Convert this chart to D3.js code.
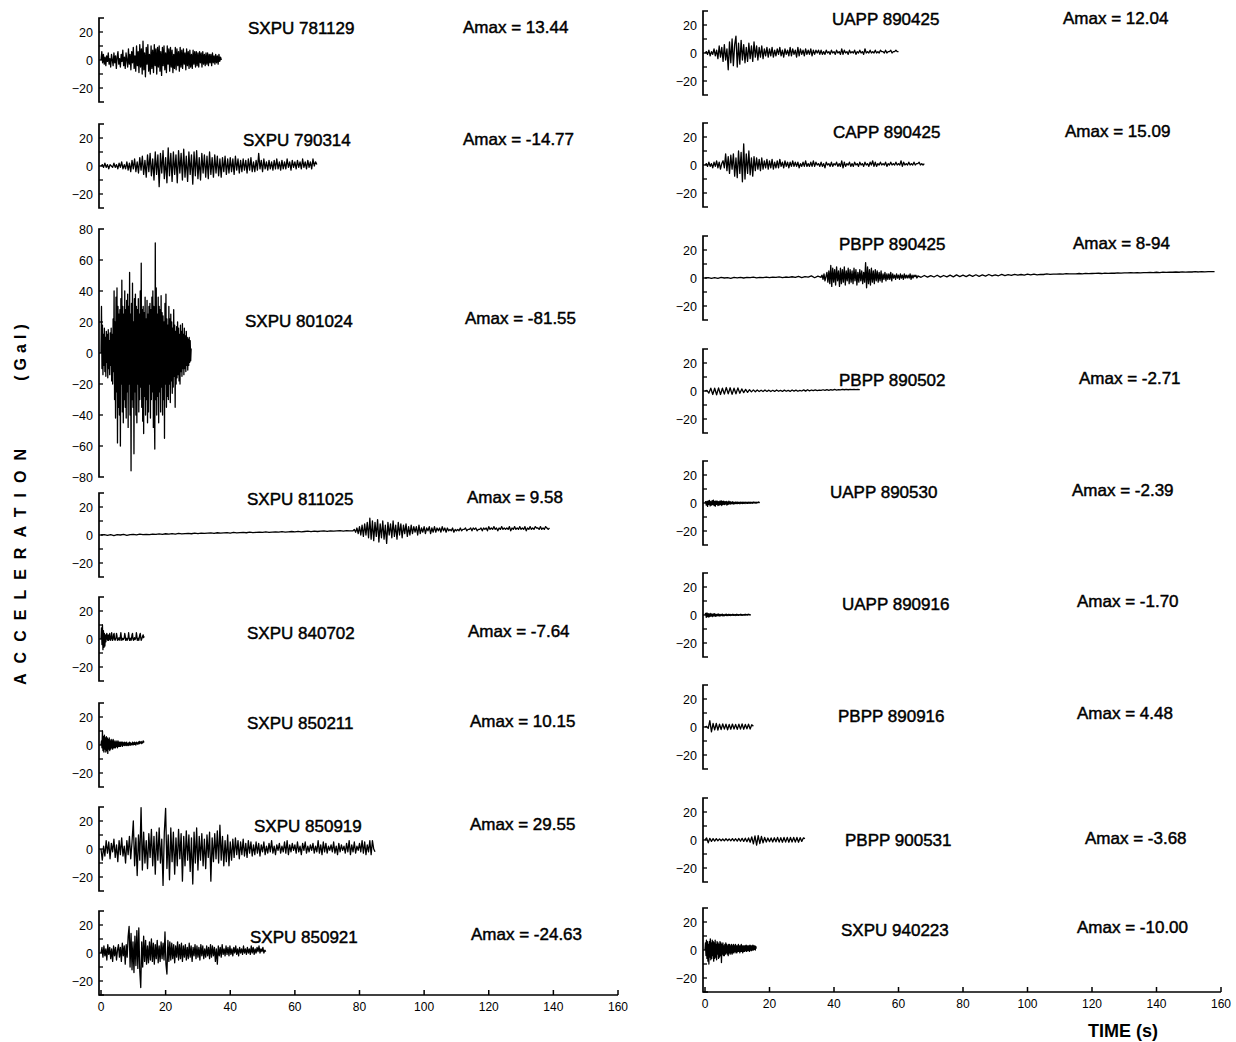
<!DOCTYPE html>
<html>
<head>
<meta charset="utf-8">
<script src="https://cdn.jsdelivr.net/npm/d3@7"></script>
<style>
body { margin: 0; background: #fff; }
svg { display: block; font-family: "Liberation Sans", Arial, sans-serif; }
</style>
</head>
<body>
<div id="chart"></div>
<script>
// ---- Acceleration samples (Gal) ----
// each trace: one or more segments [t0, dt, values]
const sxpu781129 = [0,6,-2,4,-3,2,-4,3, -1,5,-3,1,-5,4,0,-4, 5,-2,3,-6,2,6,-3,1, -5,4,-1,7,-4,2,-6,5,
  0,-5,8,-3,4,-7,6,-2, 9,-6,3,-8,10,-4,6,-9, 11,-5,8,-10,13.4,-7,5,-12, 9,-3,11,-8,4,-10,10,-6,
  7,-9,11,-4,8,-10,9,-5, 10,-8,6,-11,9,-4,10,-7, 5,-9,10,-3,8,-8,9,-5, 7,-9,4,-6,9,-7,8,-4,
  6,-8,9,-5,7,-6,8,-3, 5,-7,8,-4,6,-6,7,-5, 4,-6,7,-3,6,-5,6,-4, 5,-5,6,-2,5,-5,6,-3,
  4,-4,5,-3,5,-4,4,-2, 4,-4,5,-2,3,-3,4,-2, 3,-3,4,-1,2,0];
const sxpu790314 = [0,1,-1,2,-1,1,-2,1,0,-1, 2,-1,1,-2,2,-1,3,-2,1,-2, 3,-3,2,-4,4,-2,5,-4,3,-5,
  6,-3,7,-6,4,-8,8,-4,9,-7, 5,-10,10,-6,8,-14.77,9,-5,11,-9, 6,-12,13,-7,9,-11,10,-6,8,-12,
  11,-5,9,-10,12,-8,7,-11,10,-6, 8,-13,10,-7,11,-9,6,-10,9,-5, 8,-8,7,-9,10,-6,6,-8,8,-5,
  7,-7,5,-8,6,-4,7,-6,5,-5, 6,-4,5,-6,7,-3,5,-5,4,-4, 5,-3,4,-5,5,-3,6,-4,3,-4,
  4,-3,9,-2,4,-4,5,-2,3,-3, 4,-2,3,-3,4,-2,5,-2,3,-3, 4,-2,3,-2,5,-1,3,-3,4,-1,
  3,-2,4,-1,3,-2,5,-1,3,-2, 4,-1,3,-2,5,0,3,1];
const sxpu801024 = [0,30,-10,18,-14,12,-8,16,-12,10, -15,14,-6,12,-16,15,-10,8,-14,13,
  -8,16,-18,12,-20,22,-12,40,-30,20, -42,36,-25,42,-58,30,-35,25,-40,28,
  -60,35,-20,47,-38,30,-45,25,-30,40, -35,28,-42,34,-25,38,-48,30,-20,52,
  -40,25,-76,32,-30,45,-35,20,-65,35, -25,38,-40,30,-45,28,-20,35,-38,25,
  -30,40,-22,58,-35,28,-44,30,-52,26, -28,36,-40,22,-30,34,-45,25,-38,30,
  -20,32,-42,28,-30,36,-25,40,-48,30, -35,-62,71,-30,42,-40,25,-28,36,-45,
  30,-25,28,-38,37,-22,26,-40,24,-30, 20,-55,32,-20,38,-35,22,-28,18,-30,
  30,-20,22,-32,25,-18,20,-26,16,-22, 28,-15,18,-35,14,-20,17,-16,20,-14,
  16,-18,12,-20,18,-12,14,-15,19,-10, 12,-14,16,-10,11,-12,14,-8,10,-11,
  9,-8,10,-6,8,-5,3];
const sxpu811025a = [0,0.3,-0.3,0.2,-0.4,0.3,0,0.4,-0.2,0.3, 0.5,0.1,0.6,0.2,0.5,0.3,0.7,0.4,0.8,0.5,
  0.9,0.6,1.0,0.7,1.1,0.8,1.0,1.2,0.9,1.3, 1.0,1.4,1.1,1.3,1.5,1.2,1.6,1.3,1.5,1.7,
  1.4,1.8,1.5,1.7,1.9,1.6,2.0,1.7,1.9,2.1, 1.8,2.2,1.9,2.1,2.3,2.0,2.4,2.1,2.3,2.5,
  2.2,2.6,2.3,2.5,2.7,2.4,2.8,2.5,2.7,2.9, 2.6,3.0,2.7,2.9,3.1,2.8,3.2,2.9,3.0];
const sxpu811025b = [3,4,2,5,1,6,0,7,-1,8, 0,9,-2,12,-3,10,-4,9,-1,11, -5,8,-2,10,-3,7,-6,9,0,8,
  -2,10,-1,7,-3,9,0,8,-2,7, 1,8,-1,6,0,7,1,6,2,6, 0,7,1,5,2,6,1,5,3,6,
  1,5,2,6,2,5,3,5,2,6, 3,5,2,5,3,4,3,5,2,4, 3,4,3,5,3,4,4,5,3,4,
  4,5,3,5,4,5,3,4,4,5, 3,5,4,5,3,6,4,5,4,6, 4,5,3,5,4,6,4,5,4,5,
  4,6,3,5,4,6,4,5,4,6, 4,5,4,6,3,5,4,6,4,5, 4,6,5,5,4,6,4,5,4,6, 5,4,5];
const sxpu840702 = [0,8,-4,10,-7.64,6,-6,4,-5,3, -2,2,4,0,-1,3,-1,0,4,0, -1,1,4.5,1,-1,0,3,4,0,-1,
  0,1,4,2,-1,0,-0.5,1,0,-1, 2,4.5,1,-1,0,0.5,-0.5,0,1,4, 2,-1,0,0.5,-1,0,1,4.5,1,-1,
  0,0.5,-1,0.5,3,4,0,-1,0,1, -0.5,0,1,4.5,2,-1,0,0.5,-1,1, 3,4,1,-1,0,1,2,3,1,2];
const sxpu850211 = [0,3,-2,10.15,-4,6,-5,7,-3,5, -5,6,-4,5,-6,4,-3,5,-4,3, -3,4,-2,3,-3,4,-2,3,-2,2,
  -2,3,-1,2,-2,3,-1,2,-1,2, -1,2,0,2,-1,2,0,1.5,-0.5,2, 0,1.5,-0.5,2,0,1,-0.5,1.5,0,2,
  0,1.5,0,1,0.5,2,0,1.5,0.5,2, 0.5,1.5,0,2,1,1.5,0.5,2,1,2.5, 1,2,1.5,2.5,1,2,1.5,3,2,2.5];
const sxpu850919 = [0,-8,2,-5,6,-3,5,-7,4,-2, 7,-6,3,-9,6,-4,8,-5,2,-10, 6,-4,9,-7,5,20,-12,8,-19,10,
  -8,29.55,-15,12,-10,6,-14,11,-6,14, -12,9,-18,12,-8,15,-10,7,-26,12, 29,-14,10,-22,15,-9,12,-18,8,-12,
  14,-7,11,-23,9,-12,13,-8,10,-16, 8,-25,12,-10,15,-15,9,-8,11,-12, 7,-14,10,-6,12,-23,8,-9,11,-7,
  13,-10,17,-8,9,-12,6,-9,10,-12, 5,-8,7,-6,8,-4,6,-7,5,-4, 7,-5,4,-6,6,-3,5,-5,3,-4,
  5,-3,4,-5,3,-2,5,-4,2,-3, 4,-2,6,-3,2,-4,3,-1,4,-3, 2,-2,5,-3,6,-4,3,-2,4,-1,
  3,-3,5,-2,2,-4,4,-1,5,-3, 2,-2,3,-1,4,-3,2,-2,6,-3, 3,-4,5,-2,4,-3,2,-1,3,-2,
  5,-3,2,-4,4,-2,3,-1,2,-3, 4,-2,6,-4,3,-2,5,-3,2,-1, 4,-2,6,-3,5,-4,3,-2,6,-4, 6,0,-2];
const sxpu850921 = [0,4,-3,5,-2,3,-5,6,-1,4, -4,3,-6,5,-2,4,-5,2,6,-3, 4,-6,7,-2,5,-8,6,-3,12,19,
  -10,14,-12,8,-14,12,-9,16,-11,18, -13,-24.63,8,-10,12,-6,9,-8,5,-7, 8,-5,10,-6,7,-8,6,-4,9,-7,
  5,-6,8,-4,7,-5,15,-8,-15,9, -6,8,-5,7,-4,6,-7,5,-3,8, -5,6,-4,7,-6,5,-3,6,-5,4,
  -4,7,-3,5,-6,4,-2,6,-4,5, -3,4,-5,6,-2,5,-4,3,-3,5, -2,4,-4,6,-3,5,-2,4,-6,3,
  -8,5,-2,4,-3,6,-1,3,-2,5, -1,4,-2,5,-1,3,-2,4,0,5, -1,3,-2,4,0,3,-1,5,0,3,
  -1,4,0,3,-1,5,0,4,-1,3, 0,4,1,5,0,3,1,4,0,2, 1];
const uapp890425 = [0,1,-1,2,-2,1,-1,3,-2,2, -4,5,-3,4,-6,6,-5,3,-12,8, -7,10,-9,6,12,-10,7,-8,9,-5,
  6,-7,4,-6,7,-4,5,-6,8,-3, 5,-5,4,-3,5,-4,3,-2,4,-3, 3,-2,4,-3,2,-2,3,-1,4,-2,
  2,-3,3,-1,2,-2,4,-2,3,-1, 2,-3,4,-2,3,-1,2,-2,3,-1, 2,-1,3,-2,2,-1,2,0,2,-1,
  2,-1,1,-1,2,0,1,-1,2,0, 1,-1,2,0,1,-1,3,-1,2,0, 1,-1,2,0,1,0,2,-1,1,0,
  2,0,1,-1,3,0,1,0,2,0, 1,0,2,0,1,0,2,1,1,0, 2,0,1,1,2,0,1,1,2,1, 1];
const capp890425 = [0,1,-1,2,-1,1,-2,2,-1,3, -2,2,-3,1,3,-2,8,-4,6,-6, 7,-3,8,-8,5,-9,10,-6,9,-12,
  15.09,-10,8,-6,10,-7,5,-8,6,-4, 5,-3,4,-4,5,-3,3,-2,4,-3, 3,-2,4,-3,2,-2,3,-2,4,-1,
  2,-2,3,-1,2,-2,2,-1,3,-1, 2,-1,2,-2,1,-1,2,-1,3,-1, 1,-1,2,-1,3,-1,2,0,1,-1,
  2,-1,1,-2,2,0,1,-1,2,-1, 1,0,2,-1,1,-1,3,-2,2,-1, 1,0,2,-1,1,-1,2,0,1,-1,
  2,0,1,-1,2,0,1,-1,2,0, 3,-1,2,-1,1,0,2,0,1,0, 2,-1,1,0,2,0,1,0,2,0,
  1,0,3,-1,2,0,1,0,2,0, 1,0,2,0,1,1,2,0,1,0, 1];
const pbpp890425a = [0,0.3,-0.3,0.2,-0.2,0.4,0,0.3,-0.2,0.4, 0.1,0.5,0,0.4,0.2,0.6,0.1,0.5,0.3,0.7,
  0.2,0.6,0.4,0.8,0.3,0.7,0.5,0.9,0.4,1.2, 0.3,1.0,0.6,1.5,0.2,1.3,0.5];
const pbpp890425b = [1,2,-1,3,-2,1,4,-3,5,-4, 8.94,-6,7,-3,6,-5,8,-2,5,-6, 7,-4,6,-3,8,-5,5,-2,7,-4,
  6,-3,5,-4,7,-2,6,-5,4,-3, 6,-2,5,-4,4,-3,11,-7,8,-4, 6,-5,7,-3,5,-4,6,-2,5,-3,
  4,-2,5,-3,3,-1,4,-2,3,-1, 3,-1,4,-2,3,0,2,-1,3,0, 2,-1,3,0,2,-1,3,0,2,0, 2,0,3,-1,2,0,2,1,2,0, 1];
const pbpp890425c = [1.5,0.5,1.8,0.6,1.7,0.7,2.0,0.6,1.8,0.8, 2.0,0.8,2.2,1.0,2.0,1.0,2.2,1.2,2.3,1.2,
  2.2,1.4,2.5,1.5,2.3,1.6,2.6,1.7,2.4,1.9, 2.6,2.0,2.5,2.1,2.7,2.2,2.8,2.3,2.6,2.5,
  2.9,2.6,2.8,2.7,3.0,2.8,3.1,2.9,3.0,3.0, 3.2,3.0,3.3,3.1,3.2,3.3,3.4,3.2,3.5,3.3,
  3.5,3.4,3.6,3.5,3.7,3.6,3.8,3.6,3.9,3.7, 3.9,3.8,4.0,3.9,4.1,3.9,4.2,4.0,4.2,4.1,
  4.3,4.1,4.4,4.2,4.4,4.3,4.5,4.3,4.6,4.4, 4.5,4.6,4.5];
const pbpp890502 = [0,0.5,-1.5,2,-2.5,2,-2.71,2.2,-2.5,2, -2.2,2.5,-2,2.3,-2.4,2,-2,2.2,-1.6,1.5,
  -1.2,1.2,-1,0.9,-0.6,0.8,-0.5,0.7,-0.4,0.6, -0.4,0.7,-0.3,0.6,-0.4,0.5,-0.3,0.7,-0.2,0.5,
  -0.3,0.6,-0.2,0.5,-0.3,0.7,-0.1,0.6,-0.2,0.5, 0,0.8,-0.1,0.9,0.1,0.7,0.2,0.8,0.3,0.7,
  0.4,0.9,0.4,1.0,0.5,0.9,0.6,1.1,0.7,1.0, 0.8,1.1,0.9,1.2,0.9,1.1,1.0,1.2,1.0,1.1, 1];
const uapp890530 = [0,1,-1.5,1.2,-2.39,1.5,-1,1.8,-2,1, -1.5,1.6,-1.2,2,-1.8,1.2,-2.2,1.5,-1,1.3,
  -1.8,1,-1.5,1.4,-1.2,1.6,-1.8,1.2,-1,1.4, -1.2,1,-0.8,1.2,-1.5,0.8,-1,1.3,-0.6,1,
  -0.8,0.6,-0.5,0.9,-0.7,0.5,-0.6,0.7,-0.4,0.6, -0.5,0.7,-0.3,0.5,-0.6,0.6,-0.3,0.5,-0.4,0.7,
  -0.3,0.5,-0.4,0.6,-0.2,0.5,-0.3,0.6,-0.2,0.5, -0.3,0.6,-0.1,0.5,-0.2,0.7,0,0.5,-0.1,0.6,
  0,0.5,0.2,0.7,0.3,0.4];
const uapp890916 = [0,1.2,-1.7,1.5,-1.2,1,-1.5,0.8,-1,1.2, -0.8,0.6,-1.2,0.8,-0.6,1,-0.9,0.5,-0.7,0.6,
  -0.5,0.7,-0.8,0.4,-0.6,0.5,-0.4,0.6,-0.7,0.3, -0.5,0.4,-0.3,0.6,-0.5,0.3,-0.4,0.5,-0.3,0.4,
  -0.4,0.3,-0.2,0.5,-0.3,0.4,-0.2,0.3,-0.4,0.5, -0.2,0.4,-0.3,0.3,-0.1,0.5,-0.3,0.4,-0.2,0.3,
  -0.1,0.4,-0.2,0.5,0,0.3,-0.1,0.6,0.1,0.4, 0,0.3];
const pbpp890916 = [0,0.5,-1,4.48,-3.5,2.5,-2,2.5,-2.2,2, -1.8,2.2,-1.5,2,-2,1.8,-1.6,2.1,-1.4,1.9,
  -1.7,2,-1.5,2.2,-1.6,1.8,-1.3,2,-1.5,1.6, 0.5];
const pbpp900531 = [0,1.5,-2,1.2,-1,1,-0.8,1,-0.6,0.8, -0.5,0.7,-0.6,0.9,-0.5,0.8,-0.6,1,-0.7,0.9,
  -0.8,1.1,-0.9,1.2,-1,1.3,-1.2,1.5,-1.6,2.2, -2.8,3,-3.68,3.2,-2.6,2.5,-2,1.8,-1.5,1.4,
  -1.2,1.5,-1.4,1.6,-1.3,1.8,-1.5,1.7,-1.6,1.8, -1.5,1.9,-1.6,1.8,-1.4,1.9,-1.5,1.8,-1.6,1.7,
  -1,1.5,1];
const sxpu940223 = [0,5,-4,7,-6,6,-8,4,-10,6, -5,8,-7,5,-6,7,-4,6,-8,5, -6,7,-5,4,-7,6,-3,5,-6,4,
  -5,6,-4,5,-9,4,-3,5,-4,3, -4,4,-3,5,-2,4,-3,3,-4,4, -2,4,-3,3,-2,4,-3,3,-2,4,
  -2,3,-1,4,-2,3,-2,3,-1,4, -1,3,-2,3,-1,4,-1,3,-2,3, -1,3,-1,3,-0.5,3.5,-1,3,-0.5,3,
  -0.5,3,-1,3.5,0,3,-0.5,3,0,3.5, 0,3,0.5,3,0,2.5,1];

// records: station + date, Amax label, column, segments
const records = [
  { name: "SXPU 781129", amax: "13.44",  col: 0, range: 30, segs: [[0, 0.25, sxpu781129]] },
  { name: "SXPU 790314", amax: "-14.77", col: 0, range: 30, segs: [[0, 0.4, sxpu790314]] },
  { name: "SXPU 801024", amax: "-81.55", col: 0, range: 80, segs: [[0, 0.15, sxpu801024]] },
  { name: "SXPU 811025", amax: "9.58",   col: 0, range: 30, segs: [[0, 1, sxpu811025a], [78, 0.4, sxpu811025b]] },
  { name: "SXPU 840702", amax: "-7.64",  col: 0, range: 30, segs: [[0, 0.15, sxpu840702]] },
  { name: "SXPU 850211", amax: "10.15",  col: 0, range: 30, segs: [[0, 0.15, sxpu850211]] },
  { name: "SXPU 850919", amax: "29.55",  col: 0, range: 30, segs: [[0, 0.4, sxpu850919]] },
  { name: "SXPU 850921", amax: "-24.63", col: 0, range: 30, segs: [[0, 0.3, sxpu850921]] },
  { name: "UAPP 890425", amax: "12.04",  col: 1, range: 30, segs: [[0, 0.4, uapp890425]] },
  { name: "CAPP 890425", amax: "15.09",  col: 1, range: 30, segs: [[0, 0.4, capp890425]] },
  { name: "PBPP 890425", amax: "8-94",   col: 1, range: 30, segs: [[0, 1, pbpp890425a], [36, 0.3, pbpp890425b], [66, 1, pbpp890425c]] },
  { name: "PBPP 890502", amax: "-2.71",  col: 1, range: 30, segs: [[0, 0.6, pbpp890502]] },
  { name: "UAPP 890530", amax: "-2.39",  col: 1, range: 30, segs: [[0, 0.2, uapp890530]] },
  { name: "UAPP 890916", amax: "-1.70",  col: 1, range: 30, segs: [[0, 0.2, uapp890916]] },
  { name: "PBPP 890916", amax: "4.48",   col: 1, range: 30, segs: [[0, 0.5, pbpp890916]] },
  { name: "PBPP 900531", amax: "-3.68",  col: 1, range: 30, segs: [[0, 0.5, pbpp900531]] },
  { name: "SXPU 940223", amax: "-10.00", col: 1, range: 30, segs: [[0, 0.15, sxpu940223]] }
];
const timeTicks = [0, 20, 40, 60, 80, 100, 120, 140, 160];

// ---- layout ----
const width = 1236, height = 1042;
const columns = [
  { x0: 101, x1: 618 },
  { x0: 705, x1: 1221 }
];
// zero line, name label and Amax label positions per panel
const panels = [
  { zero: 60,  nx: 248, ny: 34,  ax: 463,  ay: 33 },
  { zero: 166, nx: 243, ny: 146, ax: 463,  ay: 145 },
  { zero: 353, nx: 245, ny: 327, ax: 465,  ay: 324 },
  { zero: 535, nx: 247, ny: 505, ax: 467,  ay: 503 },
  { zero: 639, nx: 247, ny: 639, ax: 468,  ay: 637 },
  { zero: 745, nx: 247, ny: 729, ax: 470,  ay: 727 },
  { zero: 849, nx: 254, ny: 832, ax: 470,  ay: 830 },
  { zero: 953, nx: 250, ny: 943, ax: 471,  ay: 940 },
  { zero: 53,  nx: 832, ny: 25,  ax: 1063, ay: 24 },
  { zero: 165, nx: 833, ny: 138, ax: 1065, ay: 137 },
  { zero: 278, nx: 839, ny: 250, ax: 1073, ay: 249 },
  { zero: 391, nx: 839, ny: 386, ax: 1079, ay: 384 },
  { zero: 503, nx: 830, ny: 498, ax: 1072, ay: 496 },
  { zero: 615, nx: 842, ny: 610, ax: 1077, ay: 607 },
  { zero: 727, nx: 838, ny: 722, ax: 1077, ay: 719 },
  { zero: 840, nx: 845, ny: 846, ax: 1085, ay: 844 },
  { zero: 950, nx: 841, ny: 936, ax: 1077, ay: 933 }
];

const svg = d3.select("#chart").append("svg")
  .attr("width", width)
  .attr("height", height)
  .attr("viewBox", [0, 0, width, height]);

const xScales = columns.map(c => d3.scaleLinear().domain([0, 160]).range([c.x0, c.x1]));
const fmt = v => v < 0 ? "\u2212" + Math.abs(v) : String(v);

records.forEach((r, i) => {
  const p = panels[i];
  const x = xScales[r.col];
  const half = r.range === 80 ? 124 : 42;
  const y = d3.scaleLinear().domain([-r.range, r.range]).range([p.zero + half, p.zero - half]);
  const ax = x(0) - 2;
  const g = svg.append("g");

  // bracket-style y axis
  g.append("path")
    .attr("d", `M${ax + 5},${y(r.range)}H${ax}V${y(-r.range)}H${ax + 5}`)
    .attr("fill", "none").attr("stroke", "#000").attr("stroke-width", 1.7);

  const ticks = r.range === 80 ? d3.range(-60, 61, 20) : [-20, -10, 0, 10, 20];
  const labels = r.range === 80 ? d3.range(-80, 81, 20) : [-20, 0, 20];
  g.selectAll(".tk").data(ticks).join("line")
    .attr("x1", ax).attr("x2", ax + 4)
    .attr("y1", d => y(d)).attr("y2", d => y(d))
    .attr("stroke", "#000").attr("stroke-width", 1.3);
  g.selectAll(".lb").data(labels).join("text")
    .attr("x", ax - 6).attr("y", d => y(d) + 4.5)
    .attr("text-anchor", "end")
    .attr("font-size", 12.5)
    .text(fmt);

  // waveform
  const pts = [];
  r.segs.forEach(([t0, dt, vals]) => vals.forEach((v, k) => pts.push([t0 + k * dt, v])));
  g.append("path")
    .attr("d", d3.line().x(d => x(d[0])).y(d => y(d[1]))(pts))
    .attr("fill", "none").attr("stroke", "#000")
    .attr("stroke-width", 1.3).attr("stroke-linejoin", "round");

  g.append("text").attr("x", p.nx).attr("y", p.ny)
    .attr("font-size", 17).attr("stroke", "#000").attr("stroke-width", 0.45)
    .text(r.name);
  g.append("text").attr("x", p.ax).attr("y", p.ay)
    .attr("font-size", 17).attr("stroke", "#000").attr("stroke-width", 0.45)
    .text("Amax = " + r.amax);

  // time axis under the last panel of each column
  const last = records.map((q, j) => q.col === r.col ? j : -1).filter(j => j >= 0).pop();
  if (i === last) {
    const ya = y(-r.range);
    g.append("line").attr("x1", ax).attr("x2", x(160)).attr("y1", ya).attr("y2", ya)
      .attr("stroke", "#000").attr("stroke-width", 1.7);
    g.selectAll(".xt").data(timeTicks).join("line")
      .attr("x1", d => x(d)).attr("x2", d => x(d))
      .attr("y1", ya).attr("y2", ya - 5)
      .attr("stroke", "#000").attr("stroke-width", 1.5);
    g.selectAll(".xl").data(timeTicks).join("text")
      .attr("x", d => x(d)).attr("y", ya + 16)
      .attr("text-anchor", "middle").attr("font-size", 12)
      .text(d => d);
  }
});

// axis titles
svg.append("text")
  .attr("transform", "translate(26,562) rotate(-90)")
  .attr("text-anchor", "middle")
  .attr("font-size", 16).attr("font-weight", "bold")
  .attr("letter-spacing", 10)
  .text("ACCELERATION");
svg.append("text")
  .attr("transform", "translate(26,350) rotate(-90)")
  .attr("text-anchor", "middle")
  .attr("font-size", 16).attr("font-weight", "bold")
  .attr("letter-spacing", 5)
  .text("(Gal)");
svg.append("text")
  .attr("x", 1123).attr("y", 1037)
  .attr("text-anchor", "middle")
  .attr("font-size", 18).attr("font-weight", "bold")
  .text("TIME (s)");
</script>
</body>
</html>
